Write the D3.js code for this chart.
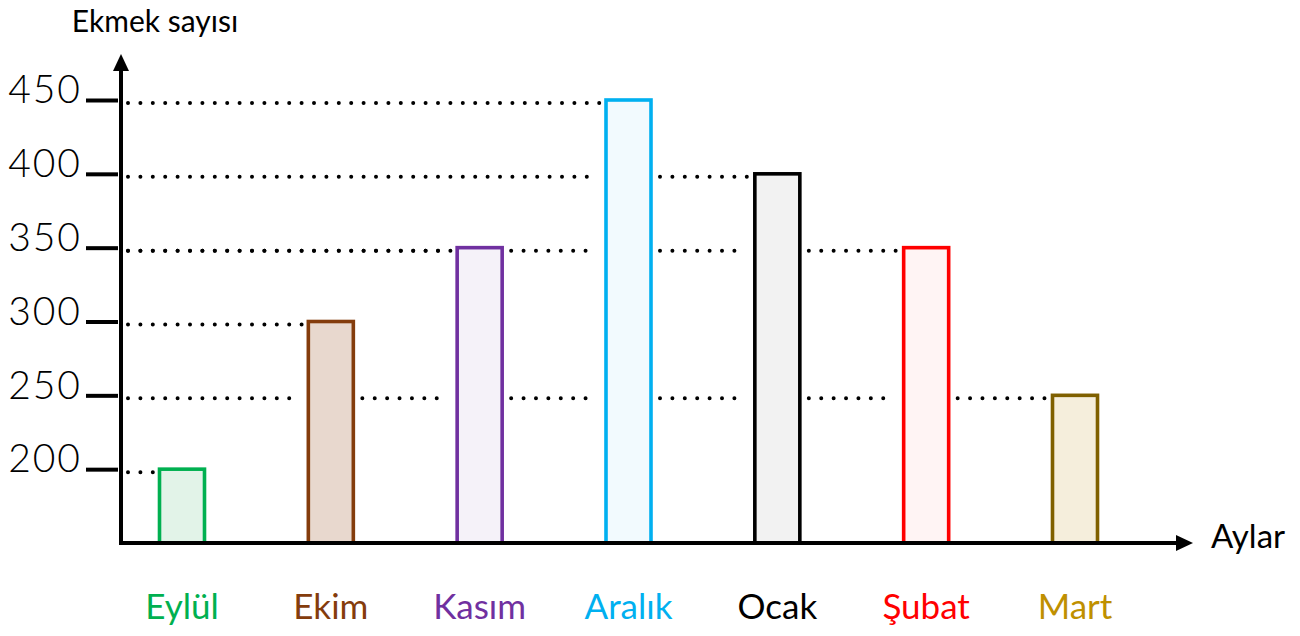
<!DOCTYPE html>
<html><head><meta charset="utf-8">
<script src="https://cdn.jsdelivr.net/npm/d3@7"></script>
<style>body{margin:0;background:#fff}svg{display:block}text{font-family:Lato,"Open Sans",sans-serif;font-weight:400}</style>
</head><body>
<svg id="c" width="1300" height="636"></svg>
<script>
const months = ["Eylül","Ekim","Kasım","Aralık","Ocak","Şubat","Mart"];
const values = [200,300,350,450,400,350,250];
const tickValues = [200,250,300,350,400,450];
const strokeColors = ["#00b050","#843c0c","#7030a0","#00b0f0","#000000","#ff0000","#7f6000"];
const fillColors = ["#e2f3e8","#e8d8ce","#f5f2f9","#f2fafe","#f2f2f2","#fff4f4","#f5eedc"];
const labelColors = ["#00b050","#843c0c","#7030a0","#00b0f0","#000000","#ff0000","#bf9000"];

const svg = d3.select("#c");
const x0 = 121, yBase = 543;
const x = d3.scalePoint().domain(months).range([182, 1075]);
const y = d3.scaleLinear().domain([150, 450]).range([yBase, 100]);
const bw = 45;

// dotted guide lines
const gap = 9;
const dots = svg.append("g");
values.forEach((v, i) => {
  let start = x0 + 7;
  const segs = [];
  for (let j = 0; j < i; j++) {
    if (values[j] >= v) {
      segs.push([start, x(months[j]) - bw/2 - gap]);
      start = x(months[j]) + bw/2 + gap;
    }
  }
  segs.push([start, x(months[i]) - bw/2 - 6]);
  segs.forEach(s => {
    dots.append("line").attr("x1", s[0]).attr("x2", s[1])
      .attr("y1", y(v) + 3).attr("y2", y(v) + 3)
      .attr("stroke", "#000").attr("stroke-width", 4)
      .attr("stroke-linecap", "round").attr("stroke-dasharray", "0 12.4");
  });
});

// bars
svg.append("g").selectAll("rect").data(values).join("rect")
  .attr("x", (d, i) => x(months[i]) - bw/2)
  .attr("y", d => y(d))
  .attr("width", bw)
  .attr("height", d => yBase - y(d))
  .attr("fill", (d, i) => fillColors[i])
  .attr("stroke", (d, i) => strokeColors[i])
  .attr("stroke-width", 3.6);

// y axis ticks + labels
const yAxis = d3.axisLeft(y).tickValues(tickValues).tickSize(32).tickPadding(6);
const ga = svg.append("g").attr("transform", `translate(${x0 - 3},0)`).call(yAxis);
ga.select(".domain").remove();
ga.selectAll(".tick line").attr("stroke", "#000").attr("stroke-width", 4);
ga.selectAll(".tick text").attr("fill", "#000")
  .style("font-size", "39px").style("font-family", "Lato, sans-serif").style("font-weight", 300)
  .attr("letter-spacing", 2).attr("dy", "0.02em").attr("dominant-baseline", "alphabetic")
  .attr("y", 2).attr("x", -36);

// axes lines with arrows
svg.append("line").attr("x1", x0).attr("x2", x0).attr("y1", yBase + 2).attr("y2", 66)
  .attr("stroke", "#000").attr("stroke-width", 4);
svg.append("path").attr("d", `M${x0},54 L${x0-8},71 L${x0+8},71 Z`).attr("fill", "#000");
svg.append("line").attr("x1", x0 - 2).attr("x2", 1180).attr("y1", yBase).attr("y2", yBase)
  .attr("stroke", "#000").attr("stroke-width", 4);
svg.append("path").attr("d", `M1193,${yBase} L1176,${yBase-8} L1176,${yBase+8} Z`).attr("fill", "#000");

// month labels
svg.append("g").selectAll("text").data(months).join("text")
  .attr("x", d => x(d)).attr("y", 619)
  .attr("text-anchor", "middle").attr("font-size", 35)
  .attr("fill", (d, i) => labelColors[i]).text(d => d);

svg.append("text").attr("x", 155).attr("y", 32).attr("text-anchor", "middle")
  .attr("font-size", 30).attr("fill", "#000").text("Ekmek sayısı");
svg.append("text").attr("x", 1248).attr("y", 548).attr("text-anchor", "middle")
  .attr("font-size", 33).attr("fill", "#000").text("Aylar");
</script>
</body></html>
